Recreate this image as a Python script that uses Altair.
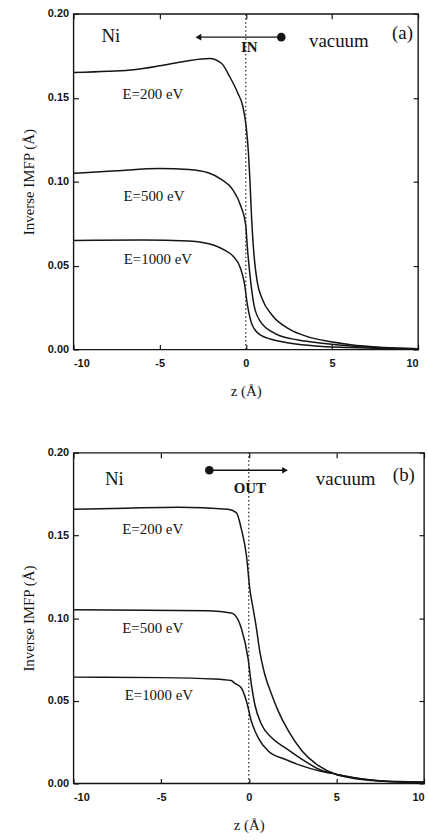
import altair as alt
import pandas as pd

# ---------- panel (a): IN ----------
a200_z = [-10, -8, -6.5, -5, -3.5, -2.1, -1.4, -0.93, -0.46, -0.17, 0.02, 0.15, 0.23, 0.34, 0.48, 0.67, 0.95, 1.53, 2.48, 3.62, 4.95, 6.1, 8, 10]
a200_v = [0.165, 0.1658, 0.1667, 0.169, 0.1718, 0.1734, 0.1704, 0.1625, 0.1527, 0.1448, 0.133, 0.118, 0.103, 0.078, 0.0559, 0.040, 0.0302, 0.0204, 0.0124, 0.0075, 0.0046, 0.0028, 0.0012, 0.0004]
a500_z = [-10, -7.5, -5, -3.3, -2.18, -1.42, -0.76, -0.29, 0, 0.1, 0.29, 0.48, 0.86, 1.71, 3.05, 4.57, 6.5, 8, 10]
a500_v = [0.105, 0.1065, 0.1078, 0.1073, 0.1053, 0.1014, 0.0953, 0.0855, 0.0736, 0.0598, 0.040, 0.0263, 0.0164, 0.0095, 0.0056, 0.0036, 0.0018, 0.001, 0.0004]
a1000_z = [-10, -6, -3.3, -1.8, -1.2, -0.76, -0.29, -0.09, 0.1, 0.38, 0.86, 2.1, 4.0, 6, 8, 10]
a1000_v = [0.065, 0.0652, 0.0647, 0.062, 0.059, 0.0559, 0.048, 0.040, 0.0263, 0.0144, 0.0085, 0.0046, 0.0021, 0.0012, 0.0006, 0.0003]

# ---------- panel (b): OUT ----------
b200_z = [-10, -7, -4, -1.2, -0.71, -0.42, -0.13, 0.06, 0.25, 0.44, 0.63, 0.92, 1.31, 1.69, 2.27, 3.04, 4.0, 4.96, 5.92, 7.5, 10]
b200_v = [0.1658, 0.1665, 0.1671, 0.1658, 0.1638, 0.1538, 0.1377, 0.1177, 0.1057, 0.0937, 0.0797, 0.0657, 0.0537, 0.0436, 0.0316, 0.0196, 0.0106, 0.0056, 0.0036, 0.0015, 0.0005]
b500_z = [-10, -6, -2.3, -1.0, -0.81, -0.42, -0.04, 0.15, 0.35, 0.73, 1.31, 2.07, 3.04, 4.0, 4.96, 5.92, 7.5, 10]
b500_v = [0.1051, 0.1048, 0.1045, 0.1031, 0.102, 0.0937, 0.0757, 0.0597, 0.0476, 0.0356, 0.0276, 0.0216, 0.0146, 0.0086, 0.0056, 0.0032, 0.0014, 0.0005]
b1000_z = [-10, -5, -2, -1.0, -0.81, -0.42, -0.13, 0.15, 0.54, 1.11, 2.07, 3.04, 4.0, 4.96, 5.92, 7.5, 10]
b1000_v = [0.0643, 0.064, 0.0632, 0.0622, 0.0607, 0.0577, 0.0497, 0.0376, 0.0276, 0.0196, 0.0146, 0.0106, 0.0076, 0.0056, 0.0036, 0.0016, 0.0008]

energy_labels = ["E=200 eV", "E=500 eV", "E=1000 eV"]
x_ticks = [-10, -5, 0, 5, 10]
y_ticks = [0.0, 0.05, 0.10, 0.15, 0.20]

# annotation anchors (data coordinates)
a_label_z = [-5.39, -5.33, -5.1]
a_label_v = [0.1525, 0.0916, 0.0537]
b_label_z = [-5.48, -5.48, -5.13]
b_label_v = [0.1538, 0.0937, 0.0535]

a_words = ["Ni", "vacuum", "(a)"]
a_words_z = [-7.83, 5.4, 9.1]
a_words_v = [0.187, 0.1835, 0.1885]
b_words = ["Ni", "vacuum", "(b)"]
b_words_z = [-7.67, 5.53, 8.85]
b_words_v = [0.1838, 0.1838, 0.1868]

a_dir = "IN"
a_dir_z, a_dir_v = 0.2, 0.1800
b_dir = "OUT"
b_dir_z, b_dir_v = 0.06, 0.1785

a_arrow_dot = (2.06, 0.1861)
a_arrow_head = (-2.75, 0.1861)
b_arrow_dot = (-2.25, 0.1894)
b_arrow_head = (2.07, 0.1894)

SERIF = "Liberation Serif"
SANS = "Liberation Sans"
INK = "#151515"


def curves_df(zs, vs):
    rows = []
    for lab, z, v in zip(energy_labels, zs, vs):
        for zi, vi in zip(z, v):
            rows.append({"z": zi, "v": vi, "E": lab})
    return pd.DataFrame(rows)


def panel(zs, vs, lab_z, lab_v, words, words_z, words_v, dtext, dz, dv,
          dot, head, head_shape, w, h):
    xs = alt.Scale(domain=[-10, 10], nice=False, zero=False)
    ys = alt.Scale(domain=[0, 0.2], nice=False)
    common = dict(offset=-5, tickSize=5, tickColor=INK, tickWidth=1.2, grid=False, domain=False,
                  labelFont=SANS, labelFontWeight="bold", labelFontSize=11, labelColor=INK,
                  titleFont=SERIF, titleFontSize=15, titleFontWeight="normal", titleColor=INK)
    x_axis = alt.Axis(values=x_ticks, labelExpr="'' + datum.value", title="z (Å)",
                      labelPadding=8, titlePadding=15, **common)
    y_axis = alt.Axis(values=y_ticks, format=".2f", title="Inverse IMFP (Å)",
                      labelPadding=5, titlePadding=11, **common)
    x_top = alt.Axis(orient="top", values=x_ticks, labels=False, title=None, **common)
    y_right = alt.Axis(orient="right", values=y_ticks, labels=False, title=None, **common)

    lines = alt.Chart(curves_df(zs, vs)).mark_line(
        interpolate="monotone", color=INK, strokeWidth=1.5
    ).encode(
        x=alt.X("z:Q", scale=xs, axis=x_axis),
        y=alt.Y("v:Q", scale=ys, axis=y_axis),
        detail="E:N",
    )

    rule = alt.Chart(pd.DataFrame({"z": [0], "y0": [0.0], "y1": [0.2]})).mark_rule(
        color="#222", strokeDash=[1.5, 2.5], strokeWidth=1.2
    ).encode(
        x=alt.X("z:Q", scale=xs, axis=x_top),
        y=alt.Y("y0:Q", scale=ys, axis=y_right),
        y2="y1:Q",
    )

    def xy():
        return dict(x=alt.X("z:Q", scale=xs, axis=None), y=alt.Y("v:Q", scale=ys, axis=None))

    arrow_df = pd.DataFrame({"z": [dot[0], head[0]], "v": [dot[1], head[1]]})
    arrow_line = alt.Chart(arrow_df).mark_line(color=INK, strokeWidth=1.4).encode(**xy())
    dot_m = alt.Chart(pd.DataFrame({"z": [dot[0]], "v": [dot[1]]})).mark_point(
        shape="circle", filled=True, size=75, color=INK, opacity=1
    ).encode(**xy())
    head_m = alt.Chart(pd.DataFrame({"z": [head[0]], "v": [head[1]]})).mark_point(
        shape=head_shape, filled=True, size=45, color=INK, opacity=1
    ).encode(**xy())

    elab = alt.Chart(pd.DataFrame({"z": lab_z, "v": lab_v, "t": energy_labels})).mark_text(
        font=SERIF, fontSize=15, color=INK, align="center", baseline="middle"
    ).encode(text="t:N", **xy())

    big = alt.Chart(pd.DataFrame({"z": words_z, "v": words_v, "t": words})).mark_text(
        font=SERIF, fontSize=19, color=INK, align="center", baseline="middle"
    ).encode(text="t:N", **xy())

    dlab = alt.Chart(pd.DataFrame({"z": [dz], "v": [dv], "t": [dtext]})).mark_text(
        font=SERIF, fontSize=15, fontWeight="bold", color=INK, align="center", baseline="middle"
    ).encode(text="t:N", **xy())

    return alt.layer(lines, rule, arrow_line, dot_m, head_m, elab, big, dlab).resolve_axis(
        x="independent", y="independent"
    ).properties(width=w, height=h)


pa = panel([a200_z, a500_z, a1000_z], [a200_v, a500_v, a1000_v], a_label_z, a_label_v,
           a_words, a_words_z, a_words_v, a_dir, a_dir_z, a_dir_v,
           a_arrow_dot, a_arrow_head, "triangle-left", 347, 338)
pb = panel([b200_z, b500_z, b1000_z], [b200_v, b500_v, b1000_v], b_label_z, b_label_v,
           b_words, b_words_z, b_words_v, b_dir, b_dir_z, b_dir_v,
           b_arrow_dot, b_arrow_head, "triangle-right", 353, 333)

chart = alt.vconcat(pa, pb, spacing=47).properties(
    padding={"left": 20, "top": 4, "right": 0, "bottom": 0},
    background="white",
).configure_view(
    stroke=INK, strokeWidth=1.4
)

chart.save("out.html", embed_options={"renderer": "svg", "actions": False})
